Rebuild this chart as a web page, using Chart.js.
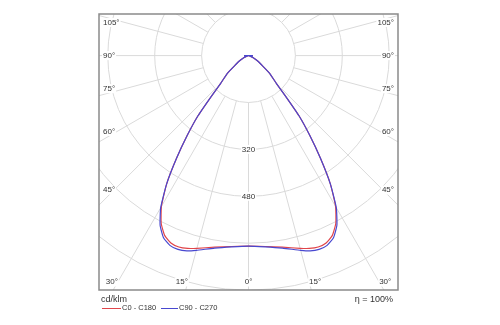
<!DOCTYPE html>
<html>
<head>
<meta charset="utf-8">
<script src="https://cdn.jsdelivr.net/npm/chart.js@4.4.1/dist/chart.umd.min.js"></script>
<style>
  html, body { margin: 0; padding: 0; background: #fff; }
  #wrap { position: relative; width: 500px; height: 325px; font-family: 'Liberation Sans', Arial, sans-serif; color: #333; }
  #polar { position: absolute; left: 0; top: 0; }
  .foot { position: absolute; font-size: 9px; line-height: 10px; white-space: nowrap; }
  .legend { font-size: 7.5px; }
  .key { display: inline-block; width: 19px; height: 0; border-top: 1.5px solid; vertical-align: middle; margin-right: 1px; }
</style>
</head>
<body>
<div id="wrap">
  <canvas id="polar" width="500" height="325"></canvas>
  <div class="foot" style="left:101px; top:294px;">cd/klm</div>
  <div class="foot legend" style="left:102px; top:303px;"><span class="key" style="border-color:#e0454a"></span>C0 - C180</div>
  <div class="foot legend" style="left:161px; top:303px;"><span class="key" style="border-color:#4848d0; width:17px"></span>C90 - C270</div>
  <div class="foot" style="right:107px; top:294px;">η = 100%</div>
</div>
<script>
// intensities in cd/klm, angle measured from nadir (0° = straight down)
const ANGLES   = [0, 5, 10, 15, 17.5, 20, 22.5, 25, 27.5, 30, 32.5, 35, 37.5, 40, 42.5, 45, 50, 55, 60, 65, 70, 75, 80, 85, 90, 180];
const C0_C180  = [650, 654, 664, 681, 690, 695, 692, 677, 645, 594, 520, 428, 343, 268, 185, 135, 94, 53, 35, 18, 8, 3, 1, 0, 15, 0];
const C90_C270 = [650, 655, 667, 688, 699, 704, 701, 686, 653, 599, 520, 428, 343, 268, 185, 135, 94, 53, 35, 18, 8, 3, 1, 0, 15, 0];

const RINGS         = [160, 320, 480, 640, 800];
const RING_LABELS   = [320, 480];
const SPOKE_STEP    = 15;
const SIDE_LABELS   = [45, 60, 75, 90, 105];
const BOTTOM_LABELS = [0, 15, 30];

const X_RANGE = [-510, 510];
const Y_RANGE = [-800, 142];

const RED  = '#e0454a';
const BLUE = '#4848d0';
const GRID = '#dadada';
const TEXT = '#333';

// both halves of a C-plane pair: left side 180°→0°, right side 0°→180°
function planePoints(vals) {
  const pts = [];
  for (let i = ANGLES.length - 1; i >= 0; i--) {
    const t = ANGLES[i] * Math.PI / 180;
    pts.push({ x: -vals[i] * Math.sin(t), y: -vals[i] * Math.cos(t) });
  }
  for (let i = 1; i < ANGLES.length; i++) {
    const t = ANGLES[i] * Math.PI / 180;
    pts.push({ x: vals[i] * Math.sin(t), y: -vals[i] * Math.cos(t) });
  }
  return pts;
}

function labelBox(ctx, text, x, y, align) {
  const w = ctx.measureText(text).width;
  let left = x - w / 2;
  if (align === 'left') left = x;
  if (align === 'right') left = x - w;
  ctx.fillStyle = '#fff';
  ctx.fillRect(left - 1, y - 4.5, w + 2, 9);
  ctx.fillStyle = TEXT;
  ctx.textAlign = align;
  ctx.fillText(text, x, y);
}

const polarGrid = {
  id: 'polarGrid',
  beforeDatasetsDraw(chart) {
    const { ctx, chartArea: a, scales: { x, y } } = chart;
    const cx = x.getPixelForValue(0);
    const cy = y.getPixelForValue(0);
    const k  = x.getPixelForValue(1) - cx;

    ctx.save();
    ctx.beginPath();
    ctx.rect(a.left, a.top, a.right - a.left, a.bottom - a.top);
    ctx.clip();

    ctx.strokeStyle = GRID;
    ctx.lineWidth = 1;
    RINGS.forEach(r => {
      ctx.beginPath();
      ctx.arc(cx, cy, r * k, 0, Math.PI * 2);
      ctx.stroke();
    });

    const r0 = RINGS[0] * k;
    for (let d = 0; d < 360; d += SPOKE_STEP) {
      const t = d * Math.PI / 180;
      const dx = Math.sin(t), dy = Math.cos(t);
      ctx.beginPath();
      ctx.moveTo(cx + dx * r0, cy + dy * r0);
      ctx.lineTo(cx + dx * 1000, cy + dy * 1000);
      ctx.stroke();
    }

    ctx.font = '8px "Liberation Sans", Arial, sans-serif';
    ctx.textBaseline = 'middle';

    RING_LABELS.forEach(v => labelBox(ctx, String(v), cx, cy + v * k, 'center'));

    // angle labels on the left and right edges
    SIDE_LABELS.forEach(deg => {
      const t = deg * Math.PI / 180;
      const run = cx - (a.left + 11);
      let ly = cy + run / Math.tan(t);
      if (deg < 90) ly -= 4;
      if (deg > 90) ly += 4;
      labelBox(ctx, deg + '°', a.left + 4, ly, 'left');
      labelBox(ctx, deg + '°', a.right - 4, ly, 'right');
    });

    // angle labels along the bottom edge
    BOTTOM_LABELS.forEach(deg => {
      const t = deg * Math.PI / 180;
      const ly = a.bottom - 8;
      const off = (ly - cy) * Math.tan(t) + (deg > 0 ? 6 : 0);
      labelBox(ctx, deg + '°', cx - off, ly, 'center');
      if (deg > 0) labelBox(ctx, deg + '°', cx + off, ly, 'center');
    });

    ctx.restore();
  },
  afterDraw(chart) {
    const { ctx, chartArea: a } = chart;
    ctx.save();
    ctx.strokeStyle = '#8a8a8a';
    ctx.lineWidth = 1.5;
    ctx.strokeRect(a.left, a.top, a.right - a.left, a.bottom - a.top);
    ctx.restore();
  }
};

new Chart(document.getElementById('polar'), {
  type: 'scatter',
  data: {
    datasets: [
      {
        label: 'C0 - C180',
        data: planePoints(C0_C180),
        showLine: true,
        borderColor: RED,
        borderWidth: 1.2,
        pointRadius: 0,
        tension: 0.15,
        order: 1,
      },
      {
        label: 'C90 - C270',
        data: planePoints(C90_C270),
        showLine: true,
        borderColor: BLUE,
        borderWidth: 1.2,
        pointRadius: 0,
        tension: 0.15,
        order: 0,
      }
    ]
  },
  options: {
    responsive: false,
    animation: false,
    layout: { padding: { left: 99, right: 102, top: 14, bottom: 35 } },
    plugins: { legend: { display: false }, tooltip: { enabled: false } },
    scales: {
      x: { type: 'linear', min: X_RANGE[0], max: X_RANGE[1], display: false },
      y: { type: 'linear', min: Y_RANGE[0], max: Y_RANGE[1], display: false }
    }
  },
  plugins: [polarGrid]
});
</script>
</body>
</html>
